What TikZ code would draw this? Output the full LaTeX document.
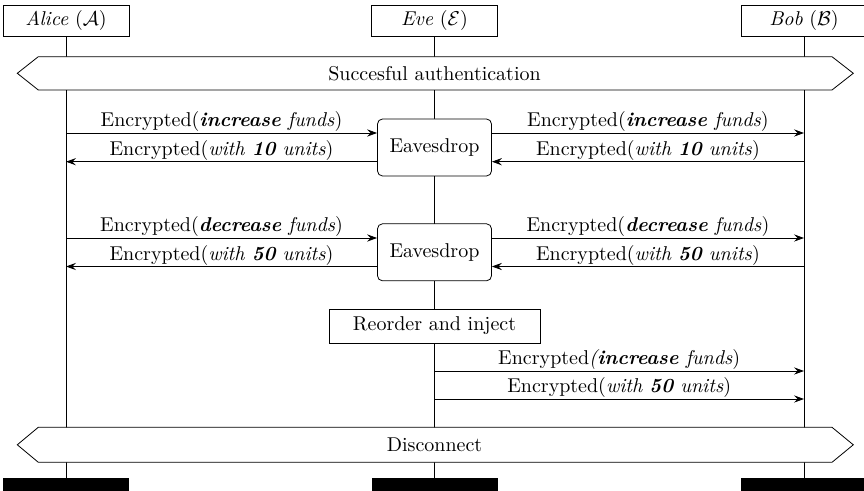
\documentclass[tikz,border=0pt]{standalone}
\usetikzlibrary{arrows.meta}
\begin{document}
\begin{tikzpicture}[x=0.5pt,y=-0.5pt]
\tikzset{
  actor/.style={draw, fill=white, minimum width=63pt, minimum height=15.5pt, inner sep=0pt},
  endbar/.style={fill=black, minimum width=63pt, minimum height=10pt, inner sep=0pt},
  procbox/.style={draw, fill=white, rounded corners=2.5pt, minimum width=57pt, minimum height=28.5pt, inner sep=0pt},
  plainbox/.style={draw, fill=white, minimum width=105.5pt, minimum height=17pt, inner sep=0pt},
  band/.style={draw, fill=white},
  msg/.style={-{Stealth[length=5pt,width=3.6pt,inset=1.8pt]}},
  lbl/.style={above, inner sep=0.5pt},
}
\useasboundingbox (0,0) rectangle (864,491);
\clip (0,0) rectangle (864,491);

% participants
\node[actor] (alice) at (66,20.5)  {\textit{Alice} ($\mathcal{A}$)};
\node[actor] (eve)   at (434.5,20.5) {\textit{Eve} ($\mathcal{E}$)};
\node[actor] (bob)   at (804,20.5) {\textit{Bob} ($\mathcal{B}$)};

% thread ends
\node[endbar] (alicebar) at (66,488.3) {};
\node[endbar] (evebar)   at (434.5,488.3) {};
\node[endbar] (bobbar)   at (804,488.3) {};

% lifelines
\draw (alice) -- (alicebar);
\draw (eve) -- (evebar);
\draw (bob) -- (bobbar);

% opening phase
\draw[band] (17.3,73.3) -- (38.3,56.7) -- (832,56.7) -- (853.3,73.3) -- (832,90) -- (38.3,90) -- cycle;
\node (auth) at (434.5,73.3) {Succesful authentication};

% first exchange
\node[procbox] (eav1) at (434.5,147.5) {Eavesdrop};
\coordinate (a1) at (66,133);
\coordinate (a2) at (66,161.7);
\coordinate (b1) at (804,133);
\coordinate (b2) at (804,161.7);
\draw[msg] (a1) -- node[lbl] {Encrypted(\textit{\textbf{increase} funds})} (eav1.west |- a1);
\draw[msg] (eav1.west |- a2) -- node[lbl] {Encrypted(\textit{with \textbf{10} units})} (a2);
\draw[msg] (eav1.east |- b1) -- node[lbl] {Encrypted(\textit{\textbf{increase} funds})} (b1);
\draw[msg] (b2) -- node[lbl] {Encrypted(\textit{with \textbf{10} units})} (eav1.east |- b2);

% second exchange
\node[procbox] (eav2) at (434.5,252.3) {Eavesdrop};
\coordinate (a3) at (66,238);
\coordinate (a4) at (66,266.5);
\coordinate (b3) at (804,238);
\coordinate (b4) at (804,266.5);
\draw[msg] (a3) -- node[lbl] {Encrypted(\textit{\textbf{decrease} funds})} (eav2.west |- a3);
\draw[msg] (eav2.west |- a4) -- node[lbl] {Encrypted(\textit{with \textbf{50} units})} (a4);
\draw[msg] (eav2.east |- b3) -- node[lbl] {Encrypted(\textit{\textbf{decrease} funds})} (b3);
\draw[msg] (b4) -- node[lbl] {Encrypted(\textit{with \textbf{50} units})} (eav2.east |- b4);

% replay
\node[plainbox] (reorder) at (434.5,326) {Reorder and inject};
\coordinate (e5) at (434.5,371);
\coordinate (e6) at (434.5,399);
\coordinate (b5) at (804,371);
\coordinate (b6) at (804,399);
\draw[msg] (e5) -- node[lbl] {Encrypted\textit{(\textbf{increase} funds})} (b5);
\draw[msg] (e6) -- node[lbl] {Encrypted(\textit{with \textbf{50} units})} (b6);

% closing phase
\draw[band] (17.3,444.8) -- (38.3,427.3) -- (832,427.3) -- (853.3,444.8) -- (832,462.3) -- (38.3,462.3) -- cycle;
\node (disc) at (434.5,444.8) {Disconnect};
\end{tikzpicture}
\end{document}
